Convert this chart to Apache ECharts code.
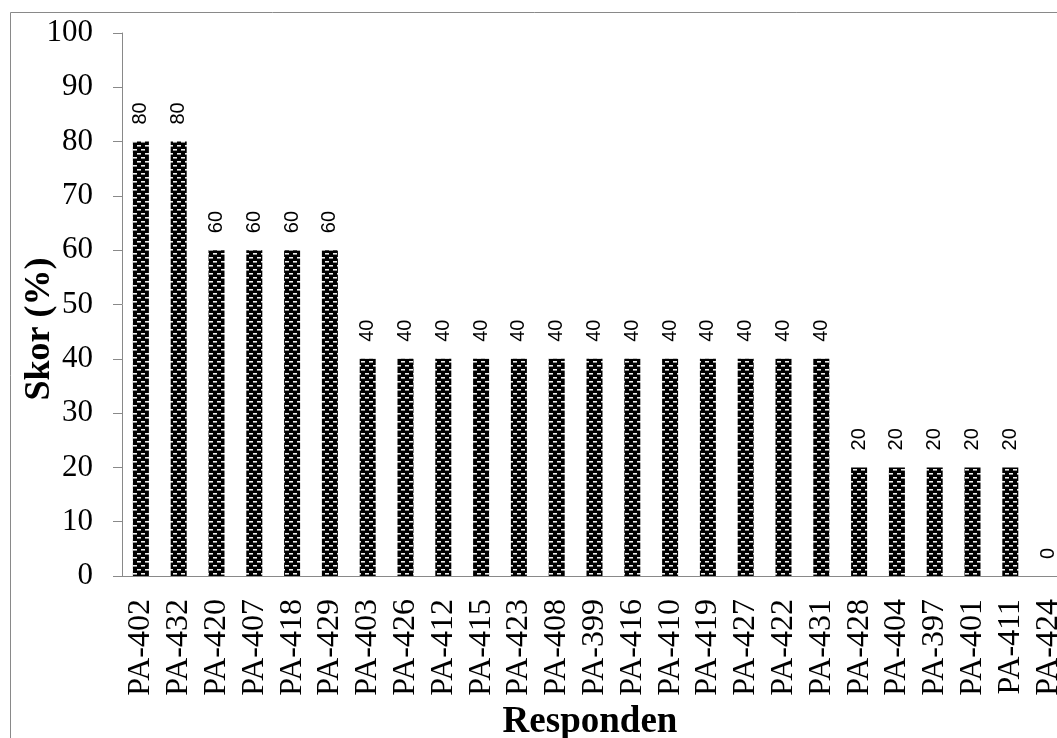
<!DOCTYPE html>
<html><head><meta charset="utf-8">
<script src="https://cdn.jsdelivr.net/npm/echarts@6/dist/echarts.min.js"></script>
<style>html,body{margin:0;padding:0;background:#fff}#c{width:1057px;height:738px}</style>
</head><body><div id="c"></div>
<script>
const categories = ['PA-402','PA-432','PA-420','PA-407','PA-418','PA-429','PA-403','PA-426','PA-412','PA-415','PA-423','PA-408','PA-399','PA-416','PA-410','PA-419','PA-427','PA-422','PA-431','PA-428','PA-404','PA-397','PA-401','PA-411','PA-424'];
const scores = [80,80,60,60,60,60,40,40,40,40,40,40,40,40,40,40,40,40,40,20,20,20,20,20,0];
const yTicks = [0,10,20,30,40,50,60,70,80,90,100];

// pattern tile
const tile = document.createElement('canvas');
tile.width = 8; tile.height = 8;
const g = tile.getContext('2d');
g.fillStyle = '#000'; g.fillRect(0,0,8,8);
g.fillStyle = '#f0f0f0';
g.fillRect(1,1,4,1);
g.fillRect(5,5,3,1); g.fillRect(0,5,1,1);
g.fillStyle = '#8a8a8a';
g.fillRect(1,2,4,1);
g.fillRect(5,6,3,1); g.fillRect(0,6,1,1);

const chart = echarts.init(document.getElementById('c'));
const axisGray = '#898989';
chart.setOption({
  animation: false,
  graphic: [{type:'rect', shape:{x:10.5,y:12.5,width:1200,height:900}, style:{fill:null, stroke:axisGray, lineWidth:1}, silent:true}],
  grid: {left:122, top:33, width:945, height:543, containLabel:false, outerBoundsMode:'none'},
  xAxis: {
    type:'category', data: categories,
    name:'Responden', nameLocation:'middle', nameGap:128, nameMoveOverlap:false,
    nameTextStyle:{fontFamily:'Liberation Serif', fontWeight:'bold', fontSize:37, color:'#000', padding:[0,9,0,0]},
    axisLine:{lineStyle:{color:axisGray, width:1}},
    axisTick:{length:9, lineStyle:{color:axisGray}},
    axisLabel:{rotate:90, interval:0, margin:23, fontFamily:'Liberation Serif', fontSize:32, color:'#000'}
  },
  yAxis: {
    type:'value', min:0, max:100, interval:10,
    name:'Skor (%)', nameLocation:'middle', nameGap:64, nameMoveOverlap:false,
    nameTextStyle:{fontFamily:'Liberation Serif', fontWeight:'bold', fontSize:36, color:'#000', padding:[0,49,0,0]},
    axisLine:{show:true, lineStyle:{color:axisGray, width:1}},
    axisTick:{show:true, length:9, lineStyle:{color:axisGray}},
    splitLine:{show:false},
    axisLabel:{margin:29, fontFamily:'Liberation Serif', fontSize:31, color:'#000',
      formatter: v => yTicks.includes(v) ? String(v) : ''}
  },
  series: [{
    type:'bar', data: scores, barWidth:16,
    itemStyle:{color:{image: tile, repeat:'repeat'}},
    label:{show:true, position:'top', rotate:90, align:'left', verticalAlign:'middle', distance:17,
      fontFamily:'Liberation Sans', fontSize:20, color:'#000'}
  }]
});
</script></body></html>
